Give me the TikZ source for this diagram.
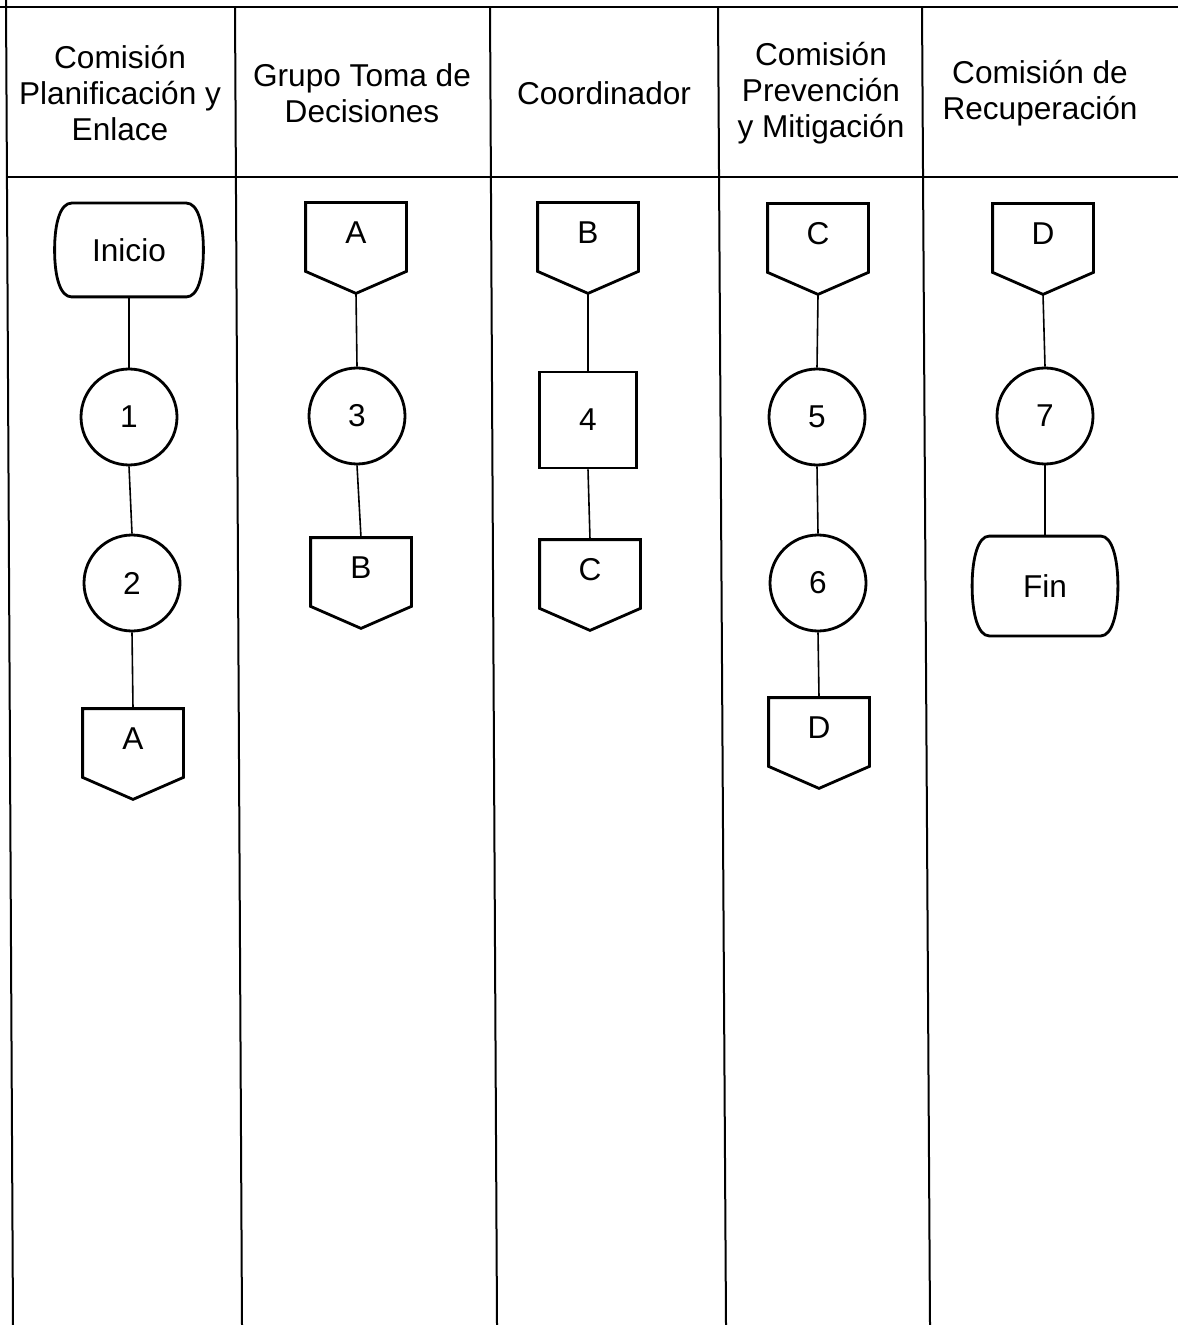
\documentclass[tikz,border=0pt]{standalone}
\usepackage{fontspec}
\setmainfont{Liberation Sans}
\usetikzlibrary{calc}
\tikzset{
  grid/.style={line width=1pt},
  shp/.style={line width=1.4pt, line join=miter},
  conn/.style={line width=0.8pt},
  hdr/.style={align=center, font=\fontsize{15.8pt}{18pt}\selectfont, inner sep=0pt},
  txt/.style={font=\fontsize{15.8pt}{18pt}\selectfont},
  circ/.style={txt, circle, draw, line width=1.4pt, minimum size=48pt, inner sep=0pt},
  sq/.style={txt, rectangle, draw, line width=1.4pt, minimum width=48.5pt, minimum height=48pt, inner sep=0pt},
  opc/.style={txt, rectangle, draw=none, minimum width=50pt, minimum height=30pt, inner sep=0pt},
  term/.style={txt, rectangle, draw=none, inner sep=0pt},
}
\newcommand\offpg[4]{% name, x, y (text centre), label
  \node[opc] (#1) at (#2,#3) {#4};
  \draw[shp] (#1.north west) -- (#1.north east) -- ([yshift=-4pt]#1.south east)
    -- ([yshift=-15pt]#1.south) coordinate (#1-tip) -- ([yshift=-4pt]#1.south west) -- cycle;}
\newcommand\termdraw[1]{%
  \draw[shp] ([xshift=8.5pt]#1.north west) -- ([xshift=-8.5pt]#1.north east)
    .. controls ([xshift=-3pt]#1.north east) and ([yshift=14pt]#1.east) .. (#1.east)
    .. controls ([yshift=-14pt]#1.east) and ([xshift=-3pt]#1.south east) .. ([xshift=-8.5pt]#1.south east)
    -- ([xshift=8.5pt]#1.south west)
    .. controls ([xshift=3pt]#1.south west) and ([yshift=-14pt]#1.west) .. (#1.west)
    .. controls ([yshift=14pt]#1.west) and ([xshift=3pt]#1.north west) .. cycle;}
\begin{document}
\begin{tikzpicture}[x=0.5pt, y=-0.5pt]
\useasboundingbox (0,0) rectangle (1178,1325);
% frame
\draw[grid] (0,7) -- (1178,7);
\draw[grid] (6,177) -- (1178,177);
\draw[grid] (6,0) -- (13,1325);
\draw[grid] (235,7) -- (242,1325);
\draw[grid] (490,7) -- (497,1325);
\draw[grid] (718,7) -- (726,1325);
\draw[grid] (922,7) -- (930,1325);
% headers
\node[hdr] (h1) at (120,93) {Comisión\\Planificación y\\Enlace};
\node[hdr] (h2) at (362,93) {Grupo Toma de\\Decisiones};
\node[hdr] (h3) at (604,93) {Coordinador};
\node[hdr] (h4) at (821,93) {Comisión\\Prevención\\y Mitigación};
\node[hdr] (h5) at (1040,93) {Comisión de\\Recuperación};
% column 1
\node[term, minimum width=74pt, minimum height=46.5pt] (ini) at (129,250) {Inicio};
\termdraw{ini}
\node[circ] (c1) at (129,417) {1};
\node[circ] (c2) at (132,583) {2};
\offpg{A1}{133}{739}{A}
\draw[conn] (ini.south) -- (c1.north);
\draw[conn] (c1.south) -- (c2.north);
\draw[conn] (c2.south) -- (A1.north);
% column 2
\offpg{A2}{356}{233}{A}
\node[circ] (c3) at (357,416) {3};
\offpg{B1}{361}{568}{B}
\draw[conn] (A2-tip) -- (c3.north);
\draw[conn] (c3.south) -- (B1.north);
% column 3
\offpg{B2}{588}{233}{B}
\node[sq] (s4) at (588,420) {4};
\offpg{C1}{590}{570}{C}
\draw[conn] (B2-tip) -- (s4.north);
\draw[conn] (s4.south) -- (C1.north);
% column 4
\offpg{C2}{818}{234}{C}
\node[circ] (c5) at (817,417) {5};
\node[circ] (c6) at (818,583) {6};
\offpg{D1}{819}{728}{D}
\draw[conn] (C2-tip) -- (c5.north);
\draw[conn] (c5.south) -- (c6.north);
\draw[conn] (c6.south) -- (D1.north);
% column 5
\offpg{D2}{1043}{234}{D}
\node[circ] (c7) at (1045,416) {7};
\node[term, minimum width=72.5pt, minimum height=49.5pt] (fin) at (1045,586) {Fin};
\termdraw{fin}
\draw[conn] (D2-tip) -- (c7.north);
\draw[conn] (c7.south) -- (fin.north);
\end{tikzpicture}
\end{document}
